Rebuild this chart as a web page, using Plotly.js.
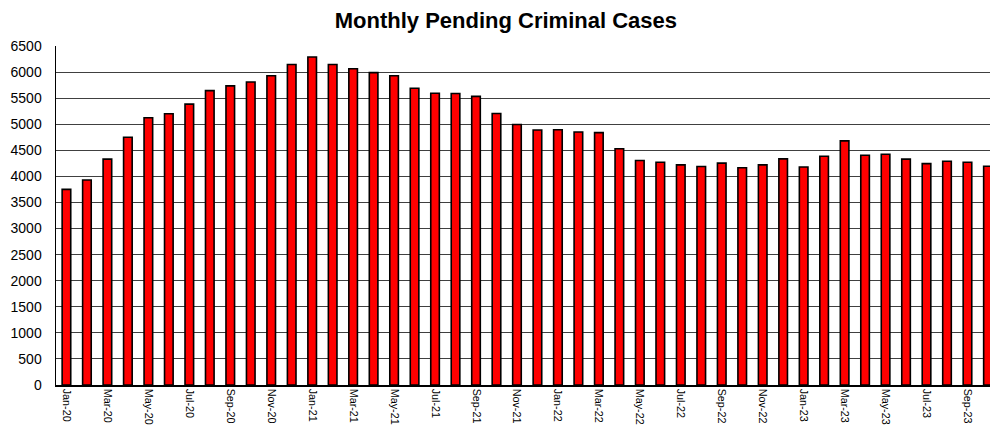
<!DOCTYPE html>
<html>
<head>
<meta charset="utf-8">
<script src="https://cdn.plot.ly/plotly-3.0.1.min.js"></script>
<style>html,body{margin:0;padding:0;background:#fff;}#chart{width:990px;height:426px;}</style>
</head>
<body>
<div id="chart"></div>
<script>
const months = ["Jan-20","Feb-20","Mar-20","Apr-20","May-20","Jun-20","Jul-20","Aug-20","Sep-20","Oct-20","Nov-20","Dec-20",
  "Jan-21","Feb-21","Mar-21","Apr-21","May-21","Jun-21","Jul-21","Aug-21","Sep-21","Oct-21","Nov-21","Dec-21",
  "Jan-22","Feb-22","Mar-22","Apr-22","May-22","Jun-22","Jul-22","Aug-22","Sep-22","Oct-22","Nov-22","Dec-22",
  "Jan-23","Feb-23","Mar-23","Apr-23","May-23","Jun-23","Jul-23","Aug-23","Sep-23","Oct-23"];
const pendingCases = [3750,3930,4330,4750,5125,5200,5385,5645,5735,5810,5930,6145,
  6290,6145,6065,5990,5930,5690,5595,5590,5535,5205,4995,4890,
  4895,4850,4840,4530,4305,4270,4220,4190,4255,4165,4220,4335,
  4180,4385,4680,4405,4425,4330,4245,4290,4270,4195];
const yTicks = [0,500,1000,1500,2000,2500,3000,3500,4000,4500,5000,5500,6000,6500];

const font = "Arial, 'Liberation Sans', sans-serif";
const trace = {
  type: 'bar',
  x: months,
  y: pendingCases,
  marker: {color: '#ff0000', line: {color: '#000000', width: 1.6}},
  hoverinfo: 'x+y'
};
const layout = {
  width: 990, height: 426,
  margin: {l: 56, r: 0, t: 46, b: 41, pad: 0},
  paper_bgcolor: '#ffffff', plot_bgcolor: '#ffffff',
  showlegend: false,
  bargap: 0.58,
  font: {family: font, color: '#000000'},
  title: {text: 'Monthly Pending Criminal Cases', font: {family: font, size: 22, color: '#000000', weight: 'bold'},
          x: 0.511, xanchor: 'center', xref: 'container', y: 0.952, yanchor: 'middle'},
  xaxis: {
    type: 'category', range: [-0.51, 45.1], tickmode: 'linear', tick0: 0, dtick: 2,
    tickangle: 90, tickfont: {family: font, size: 10.8, color: '#000000'},
    showline: true, linecolor: '#000000', linewidth: 1.5, ticks: '', showgrid: false,
    automargin: false, fixedrange: true
  },
  yaxis: {
    range: [0, 6500], tickmode: 'array', tickvals: yTicks, ticktext: yTicks.map(String),
    tickfont: {family: font, size: 14, color: '#000000'},
    showline: true, linecolor: '#000000', linewidth: 1.5, ticks: '', ticklabelstandoff: 10,
    showgrid: true, gridcolor: '#404040', gridwidth: 1, zeroline: false,
    automargin: false, fixedrange: true
  }
};
Plotly.newPlot('chart', [trace], layout, {staticPlot: true});
</script>
</body>
</html>
